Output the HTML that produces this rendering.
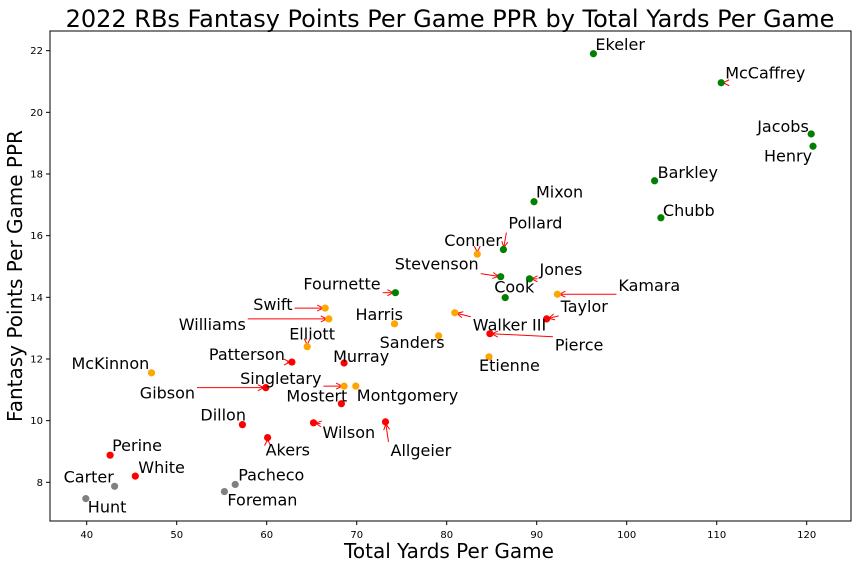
<!DOCTYPE html>
<html><head><meta charset="utf-8"><style>
body{margin:0;background:#fff;}
svg{display:block;font-family:"DejaVu Sans","Liberation Sans",sans-serif;}
</style></head><body>
<svg id="chart" width="856" height="568">
<text x="450" y="27" text-anchor="middle" font-size="24">2022 RBs Fantasy Points Per Game PPR by Total Yards Per Game</text>
<text x="449" y="558" text-anchor="middle" font-size="20">Total Yards Per Game</text>
<text transform="translate(22,276) rotate(-90)" text-anchor="middle" font-size="20">Fantasy Points Per Game PPR</text>
<rect x="50" y="31" width="801" height="490" fill="none" stroke="#000" stroke-width="1"/>
<g id="ticks"></g><g id="arrows"></g><g id="points"></g><g id="labels"></g>
</svg>
<script>
const names=["Ekeler","McCaffrey","Jacobs","Henry","Barkley","Chubb","Mixon","Pollard","Conner","Stevenson","Jones","Cook","Fournette","Kamara","Swift","Williams","Harris","Walker III","Taylor","Sanders","Pierce","Elliott","Patterson","Murray","Etienne","McKinnon","Singletary","Montgomery","Gibson","Mostert","Dillon","Wilson","Allgeier","Akers","Perine","White","Carter","Pacheco","Foreman","Hunt"];
const yardsPerGame=[96.3,110.5,120.5,120.7,103.1,103.8,89.7,86.3,83.4,86.0,89.2,86.5,74.3,92.3,66.5,66.9,74.2,80.9,91.1,79.1,84.8,64.5,62.8,68.6,84.7,47.2,68.6,69.9,59.9,68.3,57.3,65.2,73.2,60.1,42.6,45.4,43.1,56.5,55.3,39.9];
const pprPerGame=[21.9,20.96,19.3,18.9,17.78,16.58,17.1,15.55,15.4,14.67,14.6,13.99,14.15,14.1,13.65,13.3,13.14,13.5,13.3,12.75,12.82,12.4,11.9,11.87,12.07,11.55,11.12,11.12,11.07,10.55,9.87,9.93,9.96,9.45,8.88,8.2,7.87,7.93,7.7,7.47];
const tierColors=["green","green","green","green","green","green","green","green","orange","green","green","green","green","orange","orange","orange","orange","orange","red","orange","red","orange","red","red","orange","orange","orange","orange","red","red","red","red","red","red","red","red","gray","gray","gray","gray"];
const xTicks=[40,50,60,70,80,90,100,110,120];
const yTicks=[8,10,12,14,16,18,20,22];
// label offsets (pixels, styling)
const labelDx=[2,4,-54,-49,3,2,2,5,-33,-106,10,-11,-92,61,-72,-150,-39,18,14,-59,65,-18,-83,-11,-10,-80,-104,1,-126,-55,-42,9,5,-2,2,3,-51,3,3,2];
const labelDy=[-4,-4,-2,15,-3,-2,-4,-21,-8,-7,-4,-5,-3,-3,2,11,-4,18,-7,12,17,-7,-2,-1,14,-4,-2,15,11,-2,-4,15,34,18,-4,-3,-4,-4,14,14];
const colorMap={green:"#008000",orange:"#ffa500",red:"#ff0000",gray:"#808080"};
const NS="http://www.w3.org/2000/svg";
const X0=50,X1=851,Y0=31,Y1=521;
const xScale=v=>86.7+(v-40)*9.0;
const yScale=v=>482.3-(v-8)*30.83;
function mk(t,a,p){const e=document.createElementNS(NS,t);for(const k in a)e.setAttribute(k,a[k]);p.appendChild(e);return e;}
const tg=document.getElementById("ticks");
xTicks.forEach(v=>{const x=xScale(v);
 const l=mk("line",{x1:x,x2:x,y1:Y1,y2:Y1+4,stroke:"#000"},tg);
 
 
 const t=mk("text",{x:x,y:Y1+17,"text-anchor":"middle","font-size":"10"},tg);t.textContent=v;
 
 });
yTicks.forEach(v=>{const y=yScale(v);
 const l=mk("line",{x1:X0-4,x2:X0,y1:y,y2:y,stroke:"#000"},tg);
 
 
 const t=mk("text",{x:X0-7,y:y+3.5,"text-anchor":"end","font-size":"10"},tg);t.textContent=v;
 
 });
const pg=document.getElementById("points"),lg=document.getElementById("labels"),ag=document.getElementById("arrows");
names.forEach((n,i)=>{
 const px=xScale(yardsPerGame[i]),py=yScale(pprPerGame[i]);
 const c=mk("circle",{cx:px,cy:py,r:3.6,fill:colorMap[tierColors[i]]},pg);
 
 
 const lx=px+labelDx[i],ly=py+labelDy[i];
 const t=mk("text",{x:lx,y:ly,"font-size":"16"},lg);t.textContent=n;
 
 
 const w=t.getComputedTextLength();
 const bx0=lx-2,bx1=lx+w+2,by0=ly-14,by1=ly+4;
 const sx=Math.min(Math.max(px,bx0),bx1),sy=Math.min(Math.max(py,by0),by1);
 const dx=px-sx,dy=py-sy,d=Math.hypot(dx,dy);
 if(d>1){
  const ux=dx/d,uy=dy/d,ex=px-ux*2,ey=py-uy*2;
  const a=mk("line",{x1:sx,y1:sy,x2:ex,y2:ey,stroke:"#ff0000","stroke-width":"1"},ag);
  
  
  const hx=-uy,hy=ux;
  const h=mk("path",{d:`M${ex-ux*6+hx*3},${ey-uy*6+hy*3} L${ex},${ey} L${ex-ux*6-hx*3},${ey-uy*6-hy*3}`,fill:"none",stroke:"#ff0000","stroke-width":"1"},ag);
  
  
 }
});
</script>
</body></html>
